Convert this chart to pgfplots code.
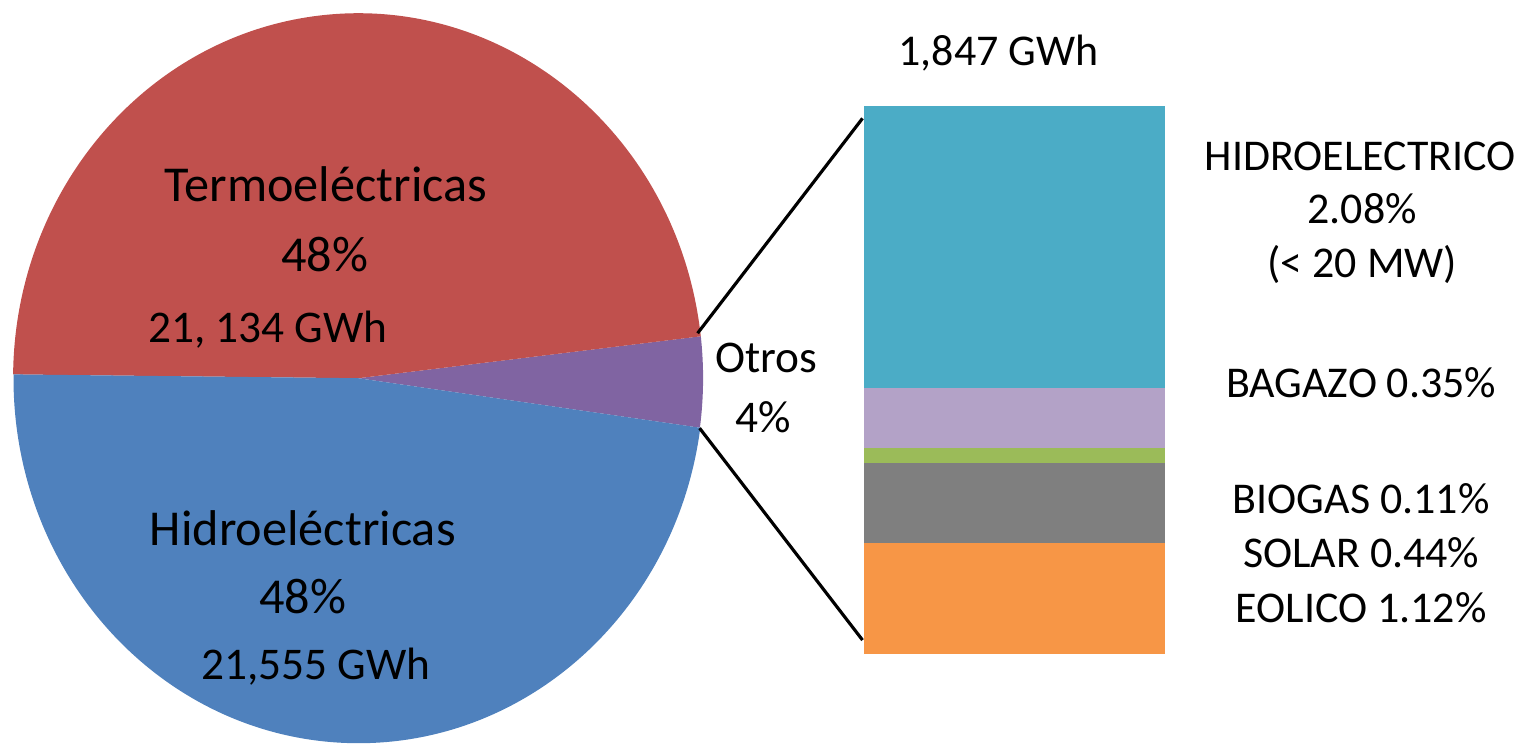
\documentclass[border=0pt]{standalone}
\usepackage{fontspec}
\setmainfont{Carlito}
\usepackage{pgfplots}
\pgfplotsset{compat=1.18}
\definecolor{cTermo}{RGB}{192,80,77}
\definecolor{cHidro}{RGB}{79,129,189}
\definecolor{cOtros}{RGB}{128,100,162}
\definecolor{cHid}{RGB}{75,172,198}
\definecolor{cBag}{RGB}{179,162,199}
\definecolor{cBio}{RGB}{155,187,89}
\definecolor{cSol}{RGB}{127,127,127}
\definecolor{cEol}{RGB}{247,150,70}
\newcommand\fA{\fontsize{14.3pt}{17pt}\selectfont}
\newcommand\fB{\fontsize{12.9pt}{15pt}\selectfont}
\newcommand\fC{\fontsize{12.5pt}{15pt}\selectfont}
\begin{document}
\begin{tikzpicture}
\useasboundingbox (0,0) rectangle (15.28,7.51);
\begin{axis}[at={(0,0)}, anchor=south west, x=0.01cm, y=0.01cm,
  xmin=0, xmax=1528, ymin=0, ymax=751, y dir=reverse, hide axis, clip=false]
% pie: Otros 4, Termoelectricas 48, Hidroelectricas 48 (percent)
\pgfmathsetmacro{\angA}{-7.8}
\xdef\angA{\angA}
\foreach \v/\col in {4/cOtros,48/cTermo,48/cHidro}{
  \pgfmathsetmacro{\angB}{\angA+3.6*\v}
  \pgfmathsetmacro{\wx}{358.5+345*cos(\angA)}
  \pgfmathsetmacro{\wy}{378-365*sin(\angA)}
  \edef\pieWedge{\noexpand\fill[\col] (axis cs:358.5,378) -- (axis cs:\wx,\wy) arc[start angle=\angA, end angle=\angB, x radius=3.45cm, y radius=3.65cm] -- cycle;}
  \pieWedge
  \xdef\angA{\angB}
}
\draw[line width=0.9pt] (axis cs:698,333) -- (axis cs:863,118);
\draw[line width=0.9pt] (axis cs:700,428) -- (axis cs:863,640);
\node[anchor=base, inner sep=0] at (axis cs:326,201) {\fA Termoeléctricas};
\node[anchor=base, inner sep=0] at (axis cs:325,271) {\fA 48\%};
\node[anchor=base, inner sep=0] at (axis cs:268,342) {\fB 21, 134 GWh};
\node[anchor=base, inner sep=0] at (axis cs:303,545) {\fA Hidroeléctricas};
\node[anchor=base, inner sep=0] at (axis cs:303,613) {\fA 48\%};
\node[anchor=base, inner sep=0] at (axis cs:316,679) {\fB 21,555 GWh};
\node[anchor=base, inner sep=0] at (axis cs:767,372) {\fB Otros};
\node[anchor=base, inner sep=0] at (axis cs:764,432) {\fB 4\%};
\node[anchor=base, inner sep=0] at (axis cs:999,65) {\fC 1,847 GWh};
\node[anchor=base, inner sep=0] at (axis cs:1361,170) {\fC HIDROELECTRICO};
\node[anchor=base, inner sep=0] at (axis cs:1363,223) {\fC 2.08\%};
\node[anchor=base, inner sep=0] at (axis cs:1363,277) {\fC (< 20 MW)};
\node[anchor=base, inner sep=0] at (axis cs:1362,397) {\fC BAGAZO 0.35\%};
\node[anchor=base, inner sep=0] at (axis cs:1362,513) {\fC BIOGAS 0.11\%};
\node[anchor=base, inner sep=0] at (axis cs:1362,567) {\fC SOLAR 0.44\%};
\node[anchor=base, inner sep=0] at (axis cs:1362,622) {\fC EOLICO 1.12\%};
\end{axis}
\begin{axis}[at={(8.64cm,0.97cm)}, anchor=south west, scale only axis,
  width=3.01cm, height=5.48cm, ybar stacked, bar width=3.01cm,
  xmin=-0.5, xmax=0.5, ymin=0, ymax=4.10, hide axis, clip=false]
\addplot[fill=cEol, draw=none] coordinates {(0,0.83)};
\addplot[fill=cSol, draw=none] coordinates {(0,0.60)};
\addplot[fill=cBio, draw=none] coordinates {(0,0.11)};
\addplot[fill=cBag, draw=none] coordinates {(0,0.45)};
\addplot[fill=cHid, draw=none] coordinates {(0,2.11)};
\end{axis}
\end{tikzpicture}
\end{document}
